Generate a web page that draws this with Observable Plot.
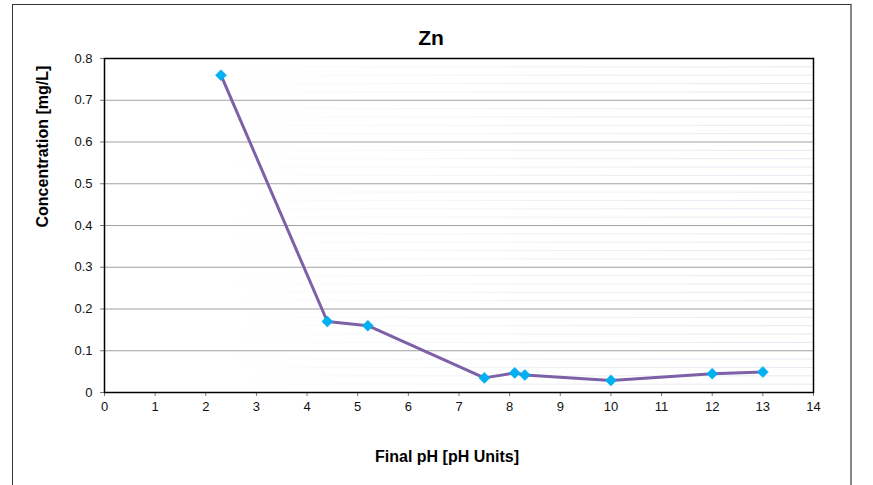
<!DOCTYPE html>
<html>
<head>
<meta charset="utf-8">
<script src="https://cdn.jsdelivr.net/npm/d3@7"></script>
<script src="https://cdn.jsdelivr.net/npm/@observablehq/plot@0.6"></script>
<style>
  body { margin: 0; background: #fff; font-family: "Liberation Sans", Arial, sans-serif; }
  #wrap { position: relative; width: 873px; height: 485px; overflow: hidden; }
  #border { position: absolute; left: 12px; top: 4px; width: 837px; height: 500px;
            border-top: 1px solid #333; border-left: 1px solid #333; border-right: 2px solid #888; }
  #chart { position: absolute; left: 0; top: 0; }
</style>
</head>
<body>
<div id="wrap"><div id="border"></div><div id="chart"></div></div>
<script>
const title = "Zn";
const xLabel = "Final pH [pH Units]";
const yLabel = "Concentration [mg/L]";
const pH = [2.3, 4.4, 5.2, 7.5, 8.1, 8.3, 10, 12, 13];
const conc = [0.76, 0.17, 0.16, 0.035, 0.047, 0.042, 0.029, 0.045, 0.049];
const xTicks = [0,1,2,3,4,5,6,7,8,9,10,11,12,13,14];
const yTicks = [0,0.1,0.2,0.3,0.4,0.5,0.6,0.7,0.8];
const minorY = d3.range(0, 0.8, 0.02).filter(v => Math.abs(v*10 - Math.round(v*10)) > 1e-6);

const data = pH.map((x, i) => ({x, y: conc[i]}));
const yFmt = d => d === 0 ? "0" : d3.format(".1f")(d);

const plot = Plot.plot({
  width: 873,
  height: 485,
  marginLeft: 104,
  marginRight: 60,
  marginTop: 58,
  marginBottom: 93,
  style: {fontFamily: "'Liberation Sans', Arial, sans-serif", fontSize: "13px", color: "#111", background: "transparent"},
  x: {domain: [0, 14], label: null},
  y: {domain: [0, 0.8], label: null},
  marks: [
    Plot.ruleY(minorY, {stroke: "url(#minorGrad)", strokeWidth: 1}),
    Plot.ruleY(yTicks.filter(v => v > 0 && v < 0.8), {stroke: "#a0a0a0", strokeWidth: 1}),
    Plot.axisX({ticks: xTicks, tickSize: 4, tickPadding: 5, stroke: "#777", fill: "#111", tickFormat: d => d, fontSize: 13, label: null}),
    Plot.axisY({ticks: yTicks, tickSize: 4, tickPadding: 8, stroke: "#777", fill: "#111", tickFormat: yFmt, fontSize: 13, label: null}),
    Plot.frame({stroke: "#000", strokeWidth: 1.5}),
    Plot.line(data, {x: "x", y: "y", stroke: "#7d60a8", strokeWidth: 3}),
    Plot.dot(data, {x: "x", y: "y", symbol: "diamond2", r: 5, fill: "#00b0f0", stroke: "#00b0f0", strokeWidth: 0.5}),
    Plot.text([title], {frameAnchor: "top", dx: -28, dy: -28, fontSize: 21, fontWeight: "bold", fill: "#000"}),
    Plot.text([xLabel], {frameAnchor: "bottom", dx: -12, dy: 69, fontSize: 16, fontWeight: "bold", fill: "#000"}),
    Plot.text([yLabel], {frameAnchor: "left", dx: -62, dy: 2, rotate: -90, fontSize: 16, fontWeight: "bold", fill: "#000"})
  ]
});

// gradient for faint minor gridlines (fading toward the left)
const sx = plot.scale("x");
const svg = d3.select(plot);
const defs = svg.insert("defs", ":first-child");
const g = defs.append("linearGradient").attr("id", "minorGrad")
  .attr("gradientUnits", "userSpaceOnUse")
  .attr("x1", sx.apply(0)).attr("x2", sx.apply(14)).attr("y1", 0).attr("y2", 0);
g.append("stop").attr("offset", "0").attr("stop-color", "#ffffff");
g.append("stop").attr("offset", "0.15").attr("stop-color", "#ffffff");
g.append("stop").attr("offset", "0.6").attr("stop-color", "#eef1f7");
g.append("stop").attr("offset", "1").attr("stop-color", "#e4e8f2");
document.getElementById("chart").appendChild(plot);
</script>
</body>
</html>
